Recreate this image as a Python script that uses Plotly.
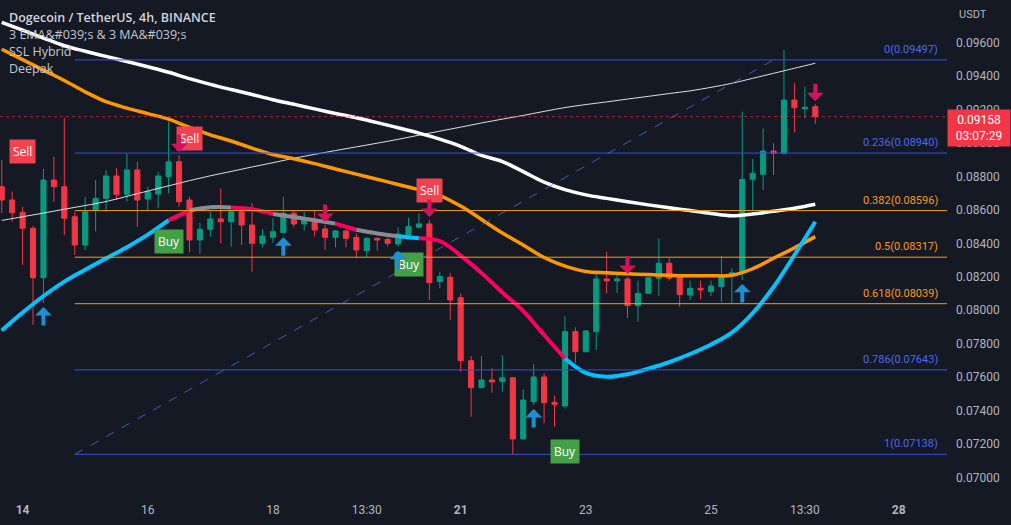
import plotly.graph_objects as go

# ---------------- data ----------------
bars = list(range(-2, 77))  # 4h bars, 0 = 14th 01:30
opens = [0.08739, 0.08659, 0.08586, 0.08490, 0.08194, 0.08779, 0.08739, 0.08559, 0.08390, 0.08599,
         0.08669, 0.08803, 0.08693, 0.08839, 0.08665, 0.08695, 0.08799, 0.08888, 0.08659, 0.08420,
         0.08484, 0.08546, 0.08529, 0.08589, 0.08510, 0.08400, 0.08436, 0.08464, 0.08580, 0.08516,
         0.08544, 0.08486, 0.08436, 0.08474, 0.08436, 0.08356, 0.08430, 0.08424, 0.08396, 0.08450,
         0.08496, 0.08516, 0.08171, 0.08197, 0.08075, 0.07698, 0.07537, 0.07583, 0.07573, 0.07596,
         0.07230, 0.07453, 0.07601, 0.07449, 0.07427, 0.07872, 0.07752, 0.07872, 0.08187, 0.08175,
         0.08187, 0.08027, 0.08101, 0.08191, 0.08281, 0.08197, 0.08091, 0.08131, 0.08111, 0.08141,
         0.08205, 0.08224, 0.08783, 0.08813, 0.08952, 0.08939, 0.09257, 0.09205, 0.09217]
highs = [0.08898, 0.08709, 0.08619, 0.08504, 0.08845, 0.08918, 0.09150, 0.08589, 0.08679, 0.08779,
         0.08839, 0.08851, 0.08940, 0.08888, 0.08739, 0.08828, 0.09128, 0.08928, 0.08679, 0.08522,
         0.08589, 0.08729, 0.08593, 0.08599, 0.08641, 0.08486, 0.08550, 0.08679, 0.08599, 0.08589,
         0.08593, 0.08510, 0.08480, 0.08484, 0.08460, 0.08436, 0.08436, 0.08434, 0.08496, 0.08553,
         0.08580, 0.08540, 0.08230, 0.08224, 0.08101, 0.07726, 0.07726, 0.07653, 0.07732, 0.07596,
         0.07527, 0.07677, 0.07623, 0.07489, 0.07965, 0.07898, 0.07880, 0.08230, 0.08350, 0.08229,
         0.08200, 0.08178, 0.08196, 0.08430, 0.08311, 0.08211, 0.08177, 0.08177, 0.08177, 0.08324,
         0.08251, 0.09187, 0.08904, 0.09088, 0.08998, 0.09556, 0.09361, 0.09337, 0.09232]
lows = [0.08581, 0.08529, 0.08270, 0.07912, 0.08043, 0.08649, 0.08450, 0.08330, 0.08360, 0.08470,
        0.08589, 0.08659, 0.08649, 0.08500, 0.08599, 0.08610, 0.08699, 0.08619, 0.08346, 0.08336,
        0.08440, 0.08400, 0.08380, 0.08390, 0.08230, 0.08376, 0.08404, 0.08460, 0.08496, 0.08476,
        0.08440, 0.08360, 0.08376, 0.08376, 0.08311, 0.08317, 0.08356, 0.08380, 0.08380, 0.08430,
        0.08490, 0.08061, 0.08131, 0.07942, 0.07632, 0.07363, 0.07535, 0.07507, 0.07513, 0.07134,
        0.07230, 0.07433, 0.07324, 0.07303, 0.07413, 0.07683, 0.07748, 0.07762, 0.08101, 0.08103,
        0.07953, 0.07930, 0.08100, 0.08085, 0.08178, 0.08021, 0.08061, 0.08065, 0.08085, 0.08051,
        0.08043, 0.08181, 0.08599, 0.08719, 0.08809, 0.08930, 0.09064, 0.09148, 0.09114]
closes = [0.08659, 0.08583, 0.08490, 0.08194, 0.08779, 0.08739, 0.08550, 0.08390, 0.08589, 0.08669,
          0.08803, 0.08693, 0.08839, 0.08659, 0.08709, 0.08803, 0.08888, 0.08649, 0.08420, 0.08484,
          0.08546, 0.08529, 0.08589, 0.08510, 0.08400, 0.08444, 0.08470, 0.08580, 0.08516, 0.08550,
          0.08480, 0.08436, 0.08474, 0.08430, 0.08360, 0.08430, 0.08420, 0.08400, 0.08456, 0.08500,
          0.08516, 0.08165, 0.08201, 0.08061, 0.07698, 0.07537, 0.07583, 0.07571, 0.07596, 0.07230,
          0.07463, 0.07601, 0.07447, 0.07437, 0.07872, 0.07752, 0.07876, 0.08187, 0.08175, 0.08187,
          0.08028, 0.08101, 0.08194, 0.08281, 0.08191, 0.08094, 0.08131, 0.08121, 0.08145, 0.08205,
          0.08224, 0.08783, 0.08819, 0.08952, 0.08939, 0.09257, 0.09211, 0.09214, 0.09158]

line_bars = list(range(-2, 77, 2))
ma_slow = [0.09722, 0.09675, 0.09628, 0.09582, 0.09549, 0.09518, 0.09488, 0.09456, 0.09423, 0.09385,
           0.09351, 0.09320, 0.09290, 0.09259, 0.09232, 0.09204, 0.09177, 0.09151, 0.09122, 0.09091,
           0.09059, 0.09023, 0.08980, 0.08926, 0.08889, 0.08829, 0.08766, 0.08721, 0.08690, 0.08669,
           0.08649, 0.08630, 0.08613, 0.08596, 0.08579, 0.08565, 0.08575, 0.08592, 0.08610, 0.08634]
ma_orange = [0.09561, 0.09499, 0.09436, 0.09374, 0.09306, 0.09247, 0.09209, 0.09176, 0.09143, 0.09093,
             0.09049, 0.09012, 0.08969, 0.08931, 0.08906, 0.08877, 0.08845, 0.08814, 0.08783, 0.08752,
             0.08721, 0.08686, 0.08623, 0.08543, 0.08462, 0.08390, 0.08315, 0.08264, 0.08232, 0.08224,
             0.08218, 0.08213, 0.08209, 0.08206, 0.08206, 0.08209, 0.08248, 0.08311, 0.08373, 0.08440]
ma_thin = [0.08537, 0.08559, 0.08581, 0.08604, 0.08626, 0.08650, 0.08681, 0.08713, 0.08744, 0.08775,
           0.08804, 0.08830, 0.08857, 0.08882, 0.08909, 0.08932, 0.08955, 0.08977, 0.08999, 0.09022,
           0.09047, 0.09071, 0.09095, 0.09120, 0.09143, 0.09165, 0.09189, 0.09212, 0.09230, 0.09246,
           0.09263, 0.09279, 0.09296, 0.09312, 0.09333, 0.09357, 0.09387, 0.09417, 0.09447, 0.09477]
ssl_base = [0.07879, 0.07986, 0.08085, 0.08171, 0.08242, 0.08310, 0.08377, 0.08452, 0.08539, 0.08596,
            0.08616, 0.08615, 0.08604, 0.08576, 0.08557, 0.08538, 0.08518, 0.08481, 0.08459, 0.08442,
            0.08431, 0.08414, 0.08327, 0.08223, 0.08106, 0.07995, 0.07852, 0.07711, 0.07625, 0.07602,
            0.07617, 0.07651, 0.07690, 0.07738, 0.07795, 0.07866, 0.07983, 0.08139, 0.08330, 0.08529]
# trend state of each segment between consecutive samples: u=up, d=down, n=neutral
ssl_state = ['u'] * 8 + ['d'] + ['n'] * 2 + ['d'] * 2 + ['n'] * 3 + ['d'] + ['n'] * 2 + ['u'] + ['d'] * 7 + ['u'] * 12

fib_levels = ["0", "0.236", "0.382", "0.5", "0.618", "0.786", "1"]
fib_prices = [0.09497, 0.08940, 0.08596, 0.08317, 0.08039, 0.07643, 0.07138]
fib_start, fib_end = 5, 72

buy_bars, buy_prices = [14, 37, 52], [0.08410, 0.08272, 0.07154]
sell_bars, sell_prices = [0, 16, 39], [0.08952, 0.09026, 0.08717]
up_arrow_bars = [2, 25, 36, 49, 69]
down_arrow_bars = [15, 29, 39, 58, 76]

tick_bars = [0, 12, 24, 33, 42, 54, 66, 75, 84]
tick_text = ["<b>14</b>", "16", "18", "13:30", "<b>21</b>", "23", "25", "13:30", "<b>28</b>"]
price_ticks = [0.070 + 0.002 * i for i in range(14)]
last_price, countdown = 0.09158, "03:07:29"

# ---------------- style ----------------
BG = "#151924"
GREEN, RED = "#089981", "#f23645"
BLUE_F, ORANGE_F = "#3050e6", "#f59a1e"
fib_colors = [BLUE_F, BLUE_F, ORANGE_F, ORANGE_F, ORANGE_F, BLUE_F, BLUE_F]
SSL_COL = {"u": "#00c3ff", "d": "#ff0062", "n": "#8c8c96"}
FONT = "Roboto"

fig = go.Figure()

fig.add_trace(go.Candlestick(
    x=bars, open=opens, high=highs, low=lows, close=closes,
    increasing=dict(line=dict(color=GREEN, width=1), fillcolor=GREEN),
    decreasing=dict(line=dict(color=RED, width=1), fillcolor=RED),
    whiskerwidth=0, hoverinfo="skip", showlegend=False))

fig.add_trace(go.Scatter(x=line_bars, y=ma_thin, mode="lines", line=dict(color="rgba(255,255,255,0.85)", width=1, shape="spline"),
                         hoverinfo="skip", showlegend=False))
fig.add_trace(go.Scatter(x=line_bars, y=ma_slow, mode="lines", line=dict(color="#ffffff", width=3.5, shape="spline"),
                         hoverinfo="skip", showlegend=False))
fig.add_trace(go.Scatter(x=line_bars, y=ma_orange, mode="lines", line=dict(color="#ff9800", width=3.5, shape="spline"),
                         hoverinfo="skip", showlegend=False))

# SSL baseline in colored runs
start = 0
for i in range(1, len(ssl_state) + 1):
    if i == len(ssl_state) or ssl_state[i] != ssl_state[start]:
        fig.add_trace(go.Scatter(x=line_bars[start:i + 1], y=ssl_base[start:i + 1], mode="lines",
                                 line=dict(color=SSL_COL[ssl_state[start]], width=4, shape="spline"),
                                 hoverinfo="skip", showlegend=False))
        start = i

shapes = []
for lvl, p, c in zip(fib_levels, fib_prices, fib_colors):
    shapes.append(dict(type="line", xref="x", yref="y", x0=fib_start, x1=95, y0=p, y1=p,
                       line=dict(color=c, width=1), layer="above"))
shapes.append(dict(type="line", xref="x", yref="y", x0=fib_start, x1=fib_end, y0=fib_prices[-1], y1=fib_prices[0],
                   line=dict(color="rgba(80,110,230,0.75)", width=1, dash="dash"), layer="above"))
shapes.append(dict(type="line", xref="paper", yref="y", x0=0, x1=1, y0=last_price, y1=last_price,
                   line=dict(color="rgba(242,54,69,0.6)", width=1, dash="dot"), layer="above"))

ann = []
for lvl, p, c in zip(fib_levels, fib_prices, fib_colors):
    ann.append(dict(xref="paper", yref="y", x=1, y=p, xanchor="right", yanchor="bottom", xshift=-7, yshift=2,
                    text=f"{lvl}({p:.5f})", showarrow=False,
                    font=dict(family=FONT, size=11, color="#4a68f0" if c == BLUE_F else ORANGE_F)))

for b, p in zip(sell_bars, sell_prices):
    ann.append(dict(x=b, y=p, text="Sell", showarrow=False, bgcolor="#f0434f", borderpad=3,
                    font=dict(family="Open Sans", size=12, color="#ffffff")))
for b, p in zip(buy_bars, buy_prices):
    ann.append(dict(x=b, y=p, text="Buy", showarrow=False, bgcolor="#43a047", borderpad=3,
                    font=dict(family="Open Sans", size=12, color="#ffffff")))

for b in up_arrow_bars:
    ann.append(dict(x=b, y=lows[bars.index(b)], ax=0, ay=24, showarrow=True, arrowhead=1, arrowsize=0.7,
                    arrowwidth=4, arrowcolor="#1e90d0", standoff=4, text=""))
for b in down_arrow_bars:
    ann.append(dict(x=b, y=highs[bars.index(b)], ax=0, ay=-22, showarrow=True, arrowhead=1, arrowsize=0.7,
                    arrowwidth=4, arrowcolor="#d4135c", standoff=3, text=""))

ann.append(dict(xref="paper", yref="y", x=1, y=last_price, xanchor="left", yanchor="top", yshift=8,
                text=f"{last_price:.5f}<br>{countdown}", showarrow=False, bgcolor=RED, width=56, borderpad=3,
                align="center", font=dict(family=FONT, size=12, color="#ffffff")))
ann.append(dict(xref="paper", yref="paper", x=1, y=1, xanchor="left", yanchor="middle", xshift=10, yshift=-14,
                text="USDT", showarrow=False, font=dict(family=FONT, size=11, color="#b2b5be")))

legend_lines = ["Dogecoin / TetherUS, 4h, BINANCE", "3 EMA&amp;#039;s &amp; 3 MA&amp;#039;s", "SSL Hybrid", "Deepak"]
for i, t in enumerate(legend_lines):
    ann.append(dict(xref="paper", yref="paper", x=0, y=1, xanchor="left", yanchor="middle", xshift=7,
                    yshift=-17 - 17 * i, text=t, showarrow=False,
                    font=dict(family="Open Sans", size=12.5, color="#d1d4dc" if i == 0 else "#c3c6ce",
                              weight=600 if i == 0 else 400)))

fig.update_layout(
    width=1011, height=525, margin=dict(l=0, r=64, t=0, b=35),
    paper_bgcolor=BG, plot_bgcolor=BG, shapes=shapes, annotations=ann, showlegend=False,
    xaxis=dict(range=[-2.167, 88.63], tickvals=tick_bars, ticktext=tick_text, showgrid=False, zeroline=False,
               showline=False, ticks="", rangeslider=dict(visible=False), ticklabelstandoff=11,
               tickfont=dict(family=FONT, size=12, color="#b2b5be")),
    yaxis=dict(range=[0.069247, 0.098554], side="right", tickvals=price_ticks,
               ticktext=[f"{v:.5f}" for v in price_ticks], showgrid=False, zeroline=False, showline=False,
               ticks="", ticklabelstandoff=8, tickfont=dict(family=FONT, size=12, color="#b2b5be")),
)

fig.write_html("out.html")
